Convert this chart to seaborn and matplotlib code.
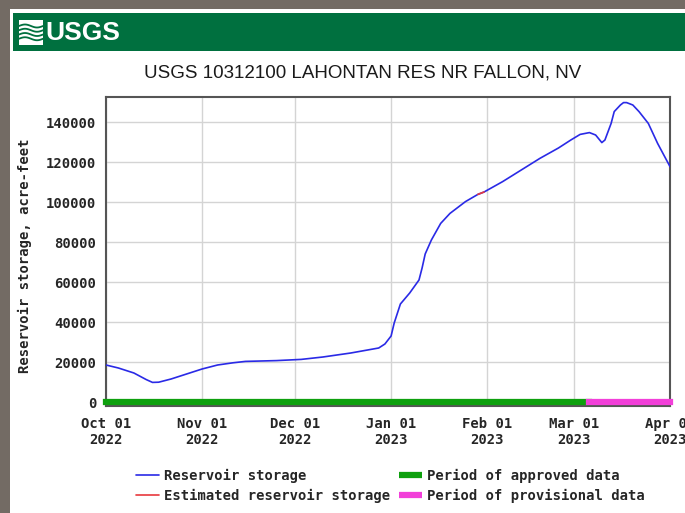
import numpy as np
import pandas as pd
import seaborn as sns
import matplotlib.pyplot as plt
import matplotlib.dates as mdates
from matplotlib.patches import Rectangle
from matplotlib.lines import Line2D

# reservoir storage (acre-feet)
dates = ["2022-10-01", "2022-10-05", "2022-10-10", "2022-10-14", "2022-10-16",
         "2022-10-18", "2022-10-22", "2022-10-27", "2022-11-01", "2022-11-06",
         "2022-11-11", "2022-11-15", "2022-11-25", "2022-12-03", "2022-12-10",
         "2022-12-19", "2022-12-28", "2022-12-30", "2023-01-01", "2023-01-02",
         "2023-01-04", "2023-01-07", "2023-01-10", "2023-01-11", "2023-01-12",
         "2023-01-14", "2023-01-17", "2023-01-20", "2023-01-25", "2023-01-29",
         "2023-01-31", "2023-02-06", "2023-02-12", "2023-02-18", "2023-02-24",
         "2023-02-28", "2023-03-03", "2023-03-06", "2023-03-08", "2023-03-10",
         "2023-03-11", "2023-03-13", "2023-03-14", "2023-03-16", "2023-03-17",
         "2023-03-18", "2023-03-20", "2023-03-22", "2023-03-25", "2023-03-28",
         "2023-04-01"]
storage = [18500, 17000, 14500, 11200, 9800,
           9900, 11500, 14000, 16500, 18500,
           19600, 20300, 20700, 21300, 22500,
           24500, 27000, 29000, 33000, 39500,
           49000, 54500, 61000, 67000, 74000,
           81000, 89300, 94300, 100200, 103800,
           105000, 110200, 116000, 121800, 127000,
           131000, 133800, 134700, 133500, 129700,
           131000, 139300, 145200, 148500, 149700,
           149700, 148500, 145200, 139300, 129300,
           117700]

est_start, est_end = "2023-01-29", "2023-01-31"
period_start, approved_end, period_end = "2022-10-01", "2023-03-06", "2023-04-01"
y_ticks = [0, 20000, 40000, 60000, 80000, 100000, 120000, 140000]
title = "USGS 10312100 LAHONTAN RES NR FALLON, NV"
y_label = "Reservoir storage, acre-feet"
legend_labels = ["Reservoir storage", "Estimated reservoir storage",
                 "Period of approved data", "Period of provisional data"]

df = pd.DataFrame({"date": pd.to_datetime(dates), "storage": storage})
est = df[(df.date >= est_start) & (df.date <= est_end)]

sns.set_style("white")
plt.rcParams['font.family'] = ['DejaVu Sans Mono']
plt.rcParams['font.weight'] = 'bold'
plt.rcParams['font.size'] = 10

W, H = 685, 513
fig = plt.figure(figsize=(W / 100, H / 100), dpi=100, facecolor='#736b64')

# white page, green USGS banner
fig.add_artist(Rectangle((10 / W, 0), 1, 1 - 9 / H, transform=fig.transFigure,
                         facecolor='white', edgecolor='none', zorder=-10))
fig.add_artist(Rectangle((13 / W, 1 - 51 / H), 1, 38 / H, transform=fig.transFigure,
                         facecolor='#00703f', edgecolor='none', zorder=-9))
logo = fig.add_axes([19 / W, 1 - 45 / H, 24 / W, 25 / H])
logo.set_facecolor('white')
tt = np.linspace(0, 1, 30)
for k in range(4):
    logo.plot(tt, 0.25 + 0.17 * k + 0.06 * np.sin(tt * 2 * np.pi), color='#00703f', lw=1.3)
logo.set_xlim(0, 1)
logo.set_ylim(0, 1)
logo.set_xticks([])
logo.set_yticks([])
for s in logo.spines.values():
    s.set_visible(False)
fig.text(45 / W, 1 - 33 / H, "USGS", color='white', fontsize=19, fontweight='bold',
         family=['Liberation Sans', 'DejaVu Sans'], va='center', ha='left')

fig.text(363 / W, 1 - 73 / H, title, fontsize=13.5, fontweight='normal', color='#1a1a1a',
         family=['Liberation Sans', 'DejaVu Sans'], ha='center', va='center')

ax = fig.add_axes([106 / W, 1 - 406 / H, 564 / W, 309 / H])
sns.lineplot(data=df, x='date', y='storage', color='#2a2ae6', lw=1.2, ax=ax, zorder=3)
sns.lineplot(data=est, x='date', y='storage', color='#e8383d', lw=1.2, ax=ax, zorder=4)

ax.plot(pd.to_datetime([period_start, approved_end]), [0, 0], color='#0ea00e', lw=4.5,
        solid_capstyle='projecting', clip_on=False, zorder=5)
ax.plot(pd.to_datetime([approved_end, period_end]), [0, 0], color='#f23fd9', lw=4.5,
        solid_capstyle='projecting', clip_on=False, zorder=5)

ax.set_xlim(pd.Timestamp(period_start), pd.Timestamp(period_end))
ax.set_ylim(-2000, 152500)
ax.set_yticks(y_ticks)
ax.set_yticklabels([str(v) for v in y_ticks])
ax.xaxis.set_major_locator(mdates.MonthLocator())
ax.xaxis.set_major_formatter(mdates.DateFormatter('%b %d\n%Y'))
ax.tick_params(length=0, labelsize=10)
ax.tick_params(axis='y', pad=7)
ax.tick_params(axis='x', pad=8)
ax.grid(True, color='#d4d4d4', lw=1)
ax.set_axisbelow(True)
for s in ax.spines.values():
    s.set_color('#555555')
    s.set_linewidth(1.5)
ax.set_xlabel("")
ax.set_ylabel(y_label, fontsize=10, fontweight='bold')
ax.yaxis.set_label_coords(-0.132, 0.485)

handles = [Line2D([], [], color='#2a2ae6', lw=1.2),
           Line2D([], [], color='#e8383d', lw=1.2),
           Line2D([], [], color='#0ea00e', lw=4.5, solid_capstyle='butt'),
           Line2D([], [], color='#f23fd9', lw=4.5, solid_capstyle='butt')]
fig.legend(handles, legend_labels, ncol=2, loc='center left',
           bbox_to_anchor=(129 / W, 1 - 486 / H), frameon=False, borderpad=0,
           handlelength=1.65, handletextpad=0.4, columnspacing=0.6, labelspacing=0.45,
           prop={'family': 'DejaVu Sans Mono', 'weight': 'bold', 'size': 10})

fig.savefig("out.png", dpi=100, facecolor=fig.get_facecolor())
